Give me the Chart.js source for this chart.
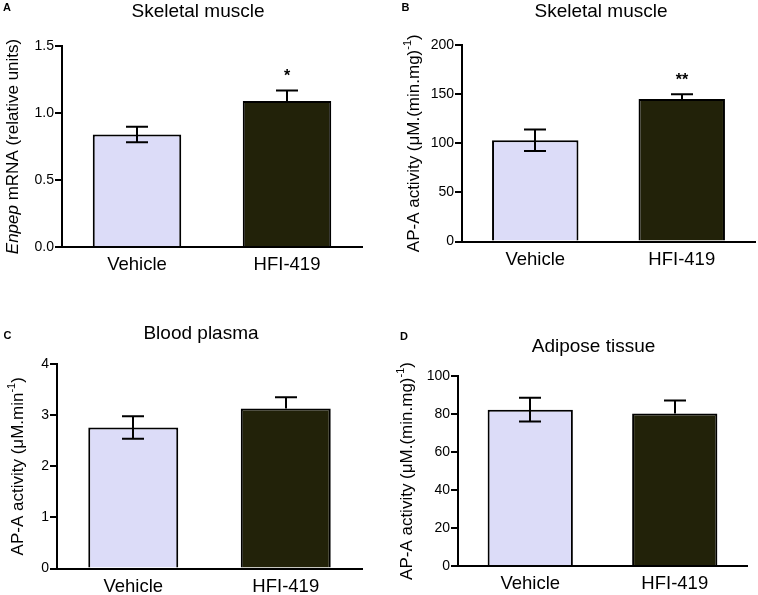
<!DOCTYPE html>
<html>
<head>
<meta charset="utf-8">
<script src="https://cdn.jsdelivr.net/npm/chart.js@4.4.1/dist/chart.umd.min.js"></script>
<style>
  html, body { margin: 0; padding: 0; background: #fff; }
  #wrap { position: relative; width: 758px; height: 595px; overflow: hidden; }
  canvas { position: absolute; }
</style>
</head>
<body>
<div id="wrap">
  <canvas id="chartA" width="380" height="297" style="left:0;top:0"></canvas>
  <canvas id="chartB" width="378" height="297" style="left:380px;top:0"></canvas>
  <canvas id="chartC" width="380" height="298" style="left:0;top:297px"></canvas>
  <canvas id="chartD" width="378" height="298" style="left:380px;top:297px"></canvas>
</div>
<script>
var groups = ['Vehicle', 'HFI-419'];
var fillColors = ['#dcdcf8', '#222209'];
// lower whisker only shows on the light bar
var showLower = [true, false];

// A - Enpep mRNA, skeletal muscle
var meanA = [0.84, 1.09];
var semA = [0.058, 0.077];
var sigA = ['', '*'];
var ticksA = [0, 0.5, 1.0, 1.5];
var tickLabelsA = ['0.0', '0.5', '1.0', '1.5'];

// B - AP-A activity, skeletal muscle
var meanB = [103, 145];
var semB = [11, 4.8];
var sigB = ['', '**'];
var ticksB = [0, 50, 100, 150, 200];
var tickLabelsB = ['0', '50', '100', '150', '200'];

// C - AP-A activity, blood plasma
var meanC = [2.76, 3.13];
var semC = [0.22, 0.22];
var sigC = ['', ''];
var ticksC = [0, 1, 2, 3, 4];
var tickLabelsC = ['0', '1', '2', '3', '4'];

// D - AP-A activity, adipose tissue
var meanD = [82.3, 80.3];
var semD = [6.2, 6.8];
var sigD = ['', ''];
var ticksD = [0, 20, 40, 60, 80, 100];
var tickLabelsD = ['0', '20', '40', '60', '80', '100'];

var FONT = '"Liberation Sans", Arial, sans-serif';

// ==========================================================================
// text + error bars drawn on top of each panel
// ==========================================================================
function panelPlugin(p) {
  return {
    id: 'panel' + p.letter,
    afterDatasetsDraw: function (chart) {
      var ctx = chart.ctx;
      var y = chart.scales.y;
      var meta = chart.getDatasetMeta(0);
      var area = chart.chartArea;

      ctx.save();
      ctx.strokeStyle = '#000';
      ctx.lineWidth = 2;
      meta.data.forEach(function (bar, i) {
        var cx = Math.round(bar.x);
        var top = y.getPixelForValue(p.mean[i]);
        var hi = y.getPixelForValue(p.mean[i] + p.sem[i]);
        var lo = y.getPixelForValue(p.mean[i] - p.sem[i]);
        ctx.beginPath();
        ctx.moveTo(cx, hi); ctx.lineTo(cx, top);
        ctx.moveTo(cx - 11, hi); ctx.lineTo(cx + 11, hi);
        if (showLower[i]) {
          ctx.moveTo(cx, top); ctx.lineTo(cx, lo);
          ctx.moveTo(cx - 11, lo); ctx.lineTo(cx + 11, lo);
        }
        ctx.stroke();
        if (p.sig[i]) {
          ctx.fillStyle = '#000';
          ctx.font = 'bold 16px ' + FONT;
          ctx.textAlign = 'center';
          ctx.textBaseline = 'alphabetic';
          ctx.fillText(p.sig[i], cx, hi - 18.5 + 9);
        }
      });

      // panel letter
      ctx.fillStyle = '#000';
      ctx.textAlign = 'center';
      ctx.textBaseline = 'middle';
      ctx.font = 'bold 11px ' + FONT;
      ctx.fillText(p.letter, p.letterPos[0], p.letterPos[1]);

      // title
      ctx.font = '19px ' + FONT;
      ctx.fillText(p.title, p.titlePos[0], p.titlePos[1]);

      // rotated y title with italic / superscript parts
      ctx.translate(p.yTitleX, (area.top + area.bottom) / 2);
      ctx.rotate(-Math.PI / 2);
      var total = 0;
      p.yTitle.forEach(function (s) {
        ctx.font = (s.italic ? 'italic ' : '') + (s.sup ? '11px ' : '17px ') + FONT;
        total += ctx.measureText(s.t).width;
      });
      var pos = -total / 2;
      ctx.textAlign = 'left';
      p.yTitle.forEach(function (s) {
        ctx.font = (s.italic ? 'italic ' : '') + (s.sup ? '11px ' : '17px ') + FONT;
        ctx.fillText(s.t, pos, s.sup ? -6 : 0);
        pos += ctx.measureText(s.t).width;
      });
      ctx.restore();
    }
  };
}

function makeChart(id, p) {
  var canvas = document.getElementById(id);
  var W = canvas.width, H = canvas.height;
  return new Chart(canvas, {
    type: 'bar',
    data: {
      labels: groups,
      datasets: [{
        data: p.mean,
        backgroundColor: fillColors,
        borderColor: '#000',
        borderWidth: 2,
        borderSkipped: 'start',
        categoryPercentage: 1,
        barPercentage: 0.59
      }]
    },
    options: {
      responsive: false,
      animation: false,
      devicePixelRatio: 1,
      layout: { padding: { left: 0, top: p.box.top, right: W - p.box.right, bottom: 0 } },
      plugins: { legend: { display: false }, tooltip: { enabled: false } },
      scales: {
        x: {
          grid: { display: true, drawOnChartArea: false, drawTicks: false },
          border: { color: '#000', width: 2, z: 1 },
          ticks: { color: '#000', padding: 7, font: { family: FONT, size: 18.5 } },
          afterFit: function (scale) { scale.height = H - p.box.bottom; }
        },
        y: {
          min: p.ticks[0],
          max: p.ticks[p.ticks.length - 1],
          grid: { display: true, drawOnChartArea: false, drawTicks: true, tickLength: 7, color: '#000', lineWidth: 2 },
          border: { color: '#000', width: 2 },
          ticks: {
            color: '#000', padding: 1, font: { family: FONT, size: 14 },
            callback: function (v, i) { return p.tickLabels[i]; }
          },
          afterBuildTicks: function (scale) {
            scale.ticks = p.ticks.map(function (v) { return { value: v }; });
          },
          afterFit: function (scale) { scale.width = p.box.left; }
        }
      }
    },
    plugins: [panelPlugin(p)]
  });
}

makeChart('chartA', {
  letter: 'A', letterPos: [7, 8], title: 'Skeletal muscle', titlePos: [198, 12],
  yTitle: [{ t: 'Enpep', italic: true }, { t: ' mRNA (relative units)' }], yTitleX: 13,
  box: { left: 62, right: 362, top: 46, bottom: 247 },
  mean: meanA, sem: semA, sig: sigA, ticks: ticksA, tickLabels: tickLabelsA
});

makeChart('chartB', {
  letter: 'B', letterPos: [25.5, 8], title: 'Skeletal muscle', titlePos: [221, 12],
  yTitle: [{ t: 'AP-A activity (\u03bcM.(min.mg)' }, { t: '-1', sup: true }, { t: ')' }], yTitleX: 34,
  box: { left: 82, right: 375, top: 45, bottom: 241.5 },
  mean: meanB, sem: semB, sig: sigB, ticks: ticksB, tickLabels: tickLabelsB
});

makeChart('chartC', {
  letter: 'C', letterPos: [7.5, 39], title: 'Blood plasma', titlePos: [201, 37],
  yTitle: [{ t: 'AP-A activity (\u03bcM.min' }, { t: '-1', sup: true }, { t: ')' }], yTitleX: 18,
  box: { left: 57, right: 362, top: 67, bottom: 271.5 },
  mean: meanC, sem: semC, sig: sigC, ticks: ticksC, tickLabels: tickLabelsC
});

makeChart('chartD', {
  letter: 'D', letterPos: [24, 39.5], title: 'Adipose tissue', titlePos: [213.5, 50],
  yTitle: [{ t: 'AP-A activity (\u03bcM.(min.mg)' }, { t: '-1', sup: true }, { t: ')' }], yTitleX: 27,
  box: { left: 78, right: 367, top: 79, bottom: 269 },
  mean: meanD, sem: semD, sig: sigD, ticks: ticksD, tickLabels: tickLabelsD
});
</script>
</body>
</html>
